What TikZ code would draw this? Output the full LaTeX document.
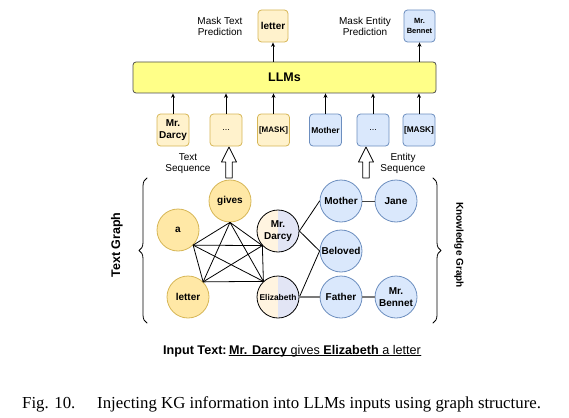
\documentclass[tikz,border=0pt]{standalone}
\usepackage{fontspec}
\setmainfont{Liberation Sans}
\newfontfamily\capfont{Liberation Serif}
\usetikzlibrary{arrows.meta, positioning, calc, decorations.pathreplacing}

\definecolor{txtfill}{HTML}{FFE8A6}
\definecolor{txtbox}{HTML}{FFF2CC}
\definecolor{txtline}{HTML}{D6B656}
\definecolor{kgfill}{HTML}{DAE8FC}
\definecolor{kgline}{HTML}{6C8EBF}
\definecolor{llmfill}{HTML}{FFFF88}
\definecolor{llmline}{HTML}{4D4D4D}
\definecolor{mixleft}{HTML}{FFF4E0}
\definecolor{mixright}{HTML}{E2E5F5}
\definecolor{relgray}{HTML}{7A7A7A}

\begin{document}
\begin{tikzpicture}[x=1pt, y=-1pt, line cap=round, line join=round,
    wire/.style={line width=0.8pt},
    lbl/.style={font=\fontsize{10}{11.5}\selectfont, align=center},
    tokbox/.style={draw, rounded corners=3.5pt, line width=0.8pt,
      minimum width=32pt, minimum height=32pt, inner sep=1pt, align=center,
      font=\bfseries\fontsize{8}{10}\selectfont},
    txttok/.style={tokbox, fill=txtbox, draw=txtline},
    kgtok/.style={tokbox, fill=kgfill, draw=kgline},
    txtnode/.style={circle, draw=txtline, fill=txtfill, line width=0.8pt,
      minimum size=42pt, inner sep=0pt, align=center,
      font=\bfseries\fontsize{10}{12}\selectfont},
    kgnode/.style={txtnode, draw=kgline, fill=kgfill},
    mixnode/.style={txtnode, draw=black, fill=none,
      path picture={
        \fill[mixleft] (path picture bounding box.south west) rectangle (path picture bounding box.north);
        \fill[mixright] (path picture bounding box.south) rectangle (path picture bounding box.north east);}},
    >={Stealth[length=4.5pt, width=4pt]}]
  \useasboundingbox (0,0) rectangle (569,417);
  % --- LLM block and predictions --------------------------------------
  \node[draw=llmline, fill=llmfill, rounded corners=3pt, line width=0.8pt,
    minimum width=303pt, minimum height=31pt,
    font=\bfseries\fontsize{12.5}{14}\selectfont] (llm) at (284.5,77.5) {LLMs};
  \node[txttok, font=\bfseries\fontsize{10}{12}\selectfont,
    minimum width=30pt] (outtxt) at (273,26) {letter};
  \node[kgtok, font=\bfseries\fontsize{7.5}{10.5}\selectfont,
    minimum width=31pt] (outkg) at (419.5,26) {Mr.\\Bennet};
  \node[lbl] (masktxt) at (220,26.5) {Mask Text\\Prediction};
  \node[lbl] (maskkg) at (365,26.5) {Mask Entity\\Prediction};
  \draw[->, wire] (llm.north -| outtxt) -- (outtxt);
  \draw[->, wire] (llm.north -| outkg) -- (outkg);
  % --- input token sequence -------------------------------------------
  \node[txttok, font=\bfseries\fontsize{10}{12}\selectfont] (tok1) at (173,130) {Mr.\\Darcy};
  \node[txttok, font=\fontsize{9}{10}\selectfont] (tok2) at (226,130) {...};
  \node[txttok] (tok3) at (273.5,130) {[MASK]};
  \node[kgtok, font=\bfseries\fontsize{8.5}{10}\selectfont] (tok4) at (325.5,130) {Mother};
  \node[kgtok, font=\fontsize{9}{10}\selectfont] (tok5) at (373,130) {...};
  \node[kgtok, font=\bfseries\fontsize{8.3}{10}\selectfont] (tok6) at (419,130) {[MASK]};
  \foreach \t in {tok1,tok2,tok3,tok4,tok5,tok6}
    \draw[->, wire] (\t) -- (llm.south -| \t);
  \node[lbl] (txtseq) at (188,163.5) {Text\\Sequence};
  \node[lbl] (kgseq) at (403,163.5) {Entity\\Sequence};
  % hollow arrows from the graphs up to the sequences
  \foreach \ax in {229,366}
    \draw[wire, fill=white] (\ax,147) -- (\ax+7.5,162) -- (\ax+3.3,162)
      -- (\ax+3.3,178) -- (\ax-3.3,178) -- (\ax-3.3,162) -- (\ax-7.5,162) -- cycle;
  % --- text graph -----------------------------------------------------
  \node[txtnode] (a) at (178,230) {a};
  \node[txtnode] (gives) at (230,201) {gives};
  \node[txtnode] (letter) at (188,297) {letter};
  \node[mixnode] (darcy) at (278,231) {Mr.\\Darcy};
  \node[mixnode, font=\bfseries\fontsize{8.4}{10}\selectfont] (eliz) at (278,297) {Elizabeth};
  \coordinate (pa) at (a.-45);
  \coordinate (pg) at (gives.south);
  \coordinate (pl) at (letter.45);
  \coordinate (pd) at (darcy.223);
  \coordinate (pe) at (eliz.133);
  \foreach \u/\v in {pa/pg, pa/pl, pa/pd, pa/pe, pg/pl, pg/pd, pg/pe, pl/pd, pl/pe, pd/pe}
    \draw[wire] (\u) -- (\v);
  % --- knowledge graph ------------------------------------------------
  \node[kgnode] (mother) at (341,201) {Mother};
  \node[kgnode] (jane) at (396,201) {Jane};
  \node[kgnode] (beloved) at (341,251) {Beloved};
  \node[kgnode] (father) at (341,297) {Father};
  \node[kgnode] (bennet) at (396,297) {Mr.\\Bennet};
  \draw[wire] (darcy.east) -- (mother.west);
  \draw[wire] (darcy.east) -- (beloved.west);
  \draw[wire] (eliz.east) -- (beloved.west);
  \draw[wire, draw=black!75] (mother) -- (jane);
  \draw[line width=1.6pt, draw=relgray] (eliz) -- (father);
  \draw[line width=1.6pt, draw=relgray] (father) -- (bennet);
  % braces and side titles
  \coordinate (lb1) at (147,323);
  \coordinate (lb2) at (147,178);
  \coordinate (rb1) at (433,178);
  \coordinate (rb2) at (433,323);
  \draw[wire, decorate, decoration={brace, amplitude=8pt}] (lb1) -- (lb2);
  \draw[wire, decorate, decoration={brace, amplitude=8pt}] (rb1) -- (rb2);
  \node[rotate=90, font=\bfseries\fontsize{12.5}{14}\selectfont] (tgraph) at (117,245) {Text Graph};
  \node[rotate=-90, font=\bfseries\fontsize{10}{12}\selectfont] (kgraph) at (459,245) {Knowledge Graph};
  % --- input sentence and caption -------------------------------------
  \node[font=\bfseries\fontsize{12.6}{14}\selectfont, anchor=base west, inner sep=0pt]
    (inlbl) at (163,354) {Input Text:\,};
  \node[font=\fontsize{12.6}{14}\selectfont, anchor=base west, inner sep=0pt]
    (input) at (inlbl.base east) {\textbf{Mr. Darcy} gives \textbf{Elizabeth} a letter};
  \draw[line width=0.7pt] ([yshift=-1.8pt]input.base west) -- ([yshift=-1.8pt]input.base east);
  \node[font=\capfont\fontsize{16.8}{18}\selectfont, anchor=base west, inner sep=0pt] (cap) at (22,408)
    {Fig. 10.\hspace{1.3em}Injecting KG information into LLMs inputs using graph structure.};
\end{tikzpicture}
\end{document}
